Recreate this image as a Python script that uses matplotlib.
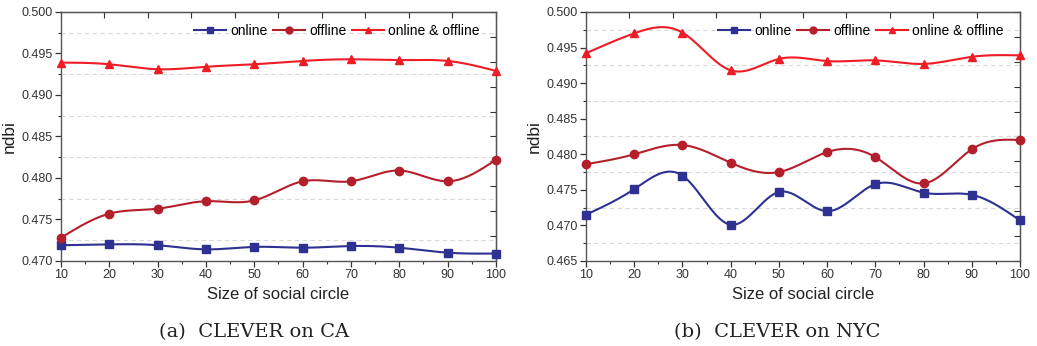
import numpy as np
import matplotlib
matplotlib.use('Agg')
from matplotlib import pyplot as plt
from matplotlib.ticker import MultipleLocator

plt.rcParams['font.family'] = ['Liberation Sans', 'DejaVu Sans']

circle_size = [10, 20, 30, 40, 50, 60, 70, 80, 90, 100]

# (a) CLEVER on CA
ca_online = [0.4719, 0.4720, 0.4719, 0.4714, 0.4717, 0.4716, 0.4718, 0.4716, 0.4710, 0.4709]
ca_offline = [0.4728, 0.4757, 0.4763, 0.4772, 0.4773, 0.4796, 0.4796, 0.4809, 0.4796, 0.4822]
ca_both = [0.4939, 0.4937, 0.4931, 0.4934, 0.4937, 0.4941, 0.4943, 0.4942, 0.4941, 0.4929]

# (b) CLEVER on NYC
nyc_online = [0.4715, 0.4751, 0.4770, 0.4701, 0.4747, 0.4720, 0.4758, 0.4746, 0.4743, 0.4707]
nyc_offline = [0.4786, 0.4800, 0.4813, 0.4788, 0.4775, 0.4803, 0.4796, 0.4759, 0.4807, 0.4820]
nyc_both = [0.4942, 0.4970, 0.4971, 0.4918, 0.4934, 0.4931, 0.4932, 0.4927, 0.4937, 0.4939]

series_names = ['online', 'offline', 'online & offline']
colors = ['#2e3192', '#b3202c', '#ee1c25']
markers = ['s', 'o', '^']


def spline(x, y, n=300):
	# natural cubic spline through the points, only for drawing the curve
	x = np.asarray(x, float)
	y = np.asarray(y, float)
	k = len(x)
	h = np.diff(x)
	A = np.zeros((k, k))
	b = np.zeros(k)
	A[0, 0] = A[-1, -1] = 1
	for i in range(1, k - 1):
		A[i, i - 1] = h[i - 1]
		A[i, i] = 2 * (h[i - 1] + h[i])
		A[i, i + 1] = h[i]
		b[i] = 6 * ((y[i + 1] - y[i]) / h[i] - (y[i] - y[i - 1]) / h[i - 1])
	M = np.linalg.solve(A, b)
	xs = np.linspace(x[0], x[-1], n)
	idx = np.clip(np.searchsorted(x, xs) - 1, 0, k - 2)
	x0, x1 = x[idx], x[idx + 1]
	hh = x1 - x0
	t0, t1 = x1 - xs, xs - x0
	ys = (M[idx] * t0 ** 3 + M[idx + 1] * t1 ** 3) / (6 * hh) \
		+ (y[idx] / hh - M[idx] * hh / 6) * t0 + (y[idx + 1] / hh - M[idx + 1] * hh / 6) * t1
	return xs, ys


fig = plt.figure(figsize=(10.37, 3.46), dpi=100)
ax_a = fig.add_axes([0.0588, 0.2457, 0.4195, 0.7197])
ax_b = fig.add_axes([0.5651, 0.2457, 0.4185, 0.7197])

panels = [
	(ax_a, [ca_online, ca_offline, ca_both], (0.470, 0.500), '(a)  CLEVER on CA', 0.245),
	(ax_b, [nyc_online, nyc_offline, nyc_both], (0.465, 0.500), '(b)  CLEVER on NYC', 0.749),
]

for ax, data, ylim, caption, cx in panels:
	for vals, name, c, m in zip(data, series_names, colors, markers):
		xs, ys = spline(circle_size, vals)
		ax.plot(xs, ys, color=c, lw=1.5, zorder=3)
		ax.plot(circle_size, vals, ls='none', marker=m, ms=6, color=c, zorder=4, clip_on=False)
		ax.plot([], [], color=c, lw=1.5, marker=m, ms=5, label=name)

	ax.set_xlim(10, 100)
	ax.set_ylim(*ylim)
	ax.xaxis.set_major_locator(MultipleLocator(10))
	ax.xaxis.set_minor_locator(MultipleLocator(5))
	ax.yaxis.set_major_locator(MultipleLocator(0.005))
	ax.yaxis.set_minor_locator(MultipleLocator(0.0025))
	ax.yaxis.set_major_formatter(matplotlib.ticker.FormatStrFormatter('%.3f'))
	ax.grid(True, which='minor', axis='y', ls=(0, (4, 3)), color='#d9d9d9', lw=0.8)
	ax.tick_params(which='major', direction='out', length=4, width=0.9, labelsize=9,
		colors='#333333', pad=2)
	ax.tick_params(which='minor', direction='out', length=2, width=0.8, colors='#333333')
	for s in ax.spines.values():
		s.set_color('#555555')
		s.set_linewidth(1.0)

	# Origin-style ticks on top and right, ten divisions each
	top = ax.secondary_xaxis('top')
	top.set_xticks(np.linspace(10, 100, 11))
	top.tick_params(direction='in', length=4, labeltop=False, colors='#333333')
	right = ax.secondary_yaxis('right')
	right.set_yticks(np.linspace(ylim[0], ylim[1], 11))
	right.tick_params(direction='in', length=4, labelright=False, colors='#333333')

	ax.set_xlabel('Size of social circle', fontsize=12, labelpad=4, color='#222222')
	ax.set_ylabel('ndbi', fontsize=12.5, labelpad=3, color='#222222')
	ax.legend(loc='upper right', ncol=3, frameon=False, fontsize=10, handlelength=2.3,
		handletextpad=0.3, columnspacing=0.4, borderaxespad=0.3, bbox_to_anchor=(0.985, 0.99))

	fig.text(cx, 0.04, caption, ha='center', va='center', fontsize=14,
		family=['DejaVu Serif'], color='#222222')

plt.savefig('out.png', dpi=100)
